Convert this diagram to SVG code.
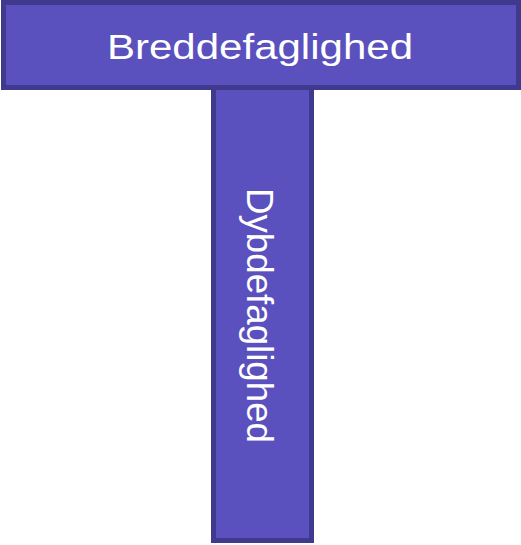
<svg xmlns="http://www.w3.org/2000/svg" width="521" height="545" viewBox="0 0 521 545">
  <style>
    .bar { fill: #5a50be; stroke: #3f3a8d; stroke-width: 5; }
    .label { fill: #ffffff; font-family: "Liberation Sans", Arial, sans-serif; }
  </style>
  <rect width="521" height="545" fill="#ffffff"/>
  <!-- vertical bar: depth -->
  <g id="dybde">
    <rect class="bar" x="213.5" y="86" width="98" height="454.5"/>
    <text class="label" font-size="37.5" transform="translate(247,188) rotate(90)" textLength="255" lengthAdjust="spacingAndGlyphs">Dybdefaglighed</text>
  </g>
  <!-- horizontal bar: breadth -->
  <g id="bredde">
    <rect class="bar" x="3.5" y="2.5" width="515" height="85"/>
    <text class="label" x="107" y="58.5" font-size="35.5" textLength="306" lengthAdjust="spacingAndGlyphs">Breddefaglighed</text>
  </g>
  <g id="connectors"/>
</svg>
